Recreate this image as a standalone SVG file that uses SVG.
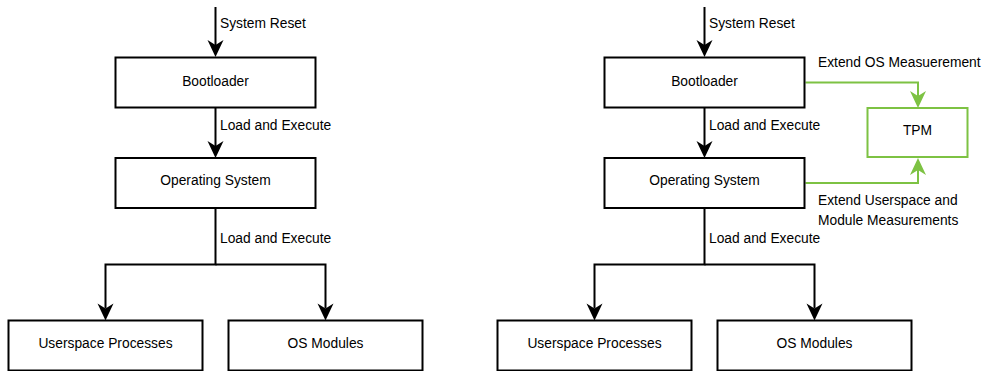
<svg xmlns="http://www.w3.org/2000/svg" width="982" height="371" viewBox="0 0 982 371">
  <style>
    .box { fill: #ffffff; stroke: #000000; stroke-width: 2; }
    .tpm { fill: #ffffff; stroke: #7dc243; stroke-width: 2; }
    .edge { fill: none; stroke: #000000; stroke-width: 2; }
    .edge-g { fill: none; stroke: #7dc243; stroke-width: 2; }
    text { font-family: "Liberation Sans", Arial, Helvetica, sans-serif; font-size: 13.8px; fill: #000000; }
    .c { text-anchor: middle; }
  </style>
  <defs>
    <marker id="arrow" markerUnits="userSpaceOnUse" orient="auto" refX="0" refY="0" markerWidth="20" markerHeight="20" overflow="visible">
      <path d="M12,0 L-5,-8 L0,0 L-5,8 Z" fill="#000000"/>
    </marker>
    <marker id="arrow-g" markerUnits="userSpaceOnUse" orient="auto" refX="0" refY="0" markerWidth="20" markerHeight="20" overflow="visible">
      <path d="M12,0 L-5,-8 L0,0 L-5,8 Z" fill="#7dc243"/>
    </marker>
  </defs>

  <!-- Connectors -->
  <g id="connectors">
    <!-- plain boot chain -->
    <path class="edge" d="M215.5,7 V45" marker-end="url(#arrow)"/>
    <path class="edge" d="M215.5,107.5 V146" marker-end="url(#arrow)"/>
    <path class="edge" d="M215.5,208 V264.5 H105.5 V308.5" marker-end="url(#arrow)"/>
    <path class="edge" d="M215.5,264.5 H325.5 V308.5" marker-end="url(#arrow)"/>
    <!-- measured boot chain -->
    <path class="edge" d="M704.5,7 V45" marker-end="url(#arrow)"/>
    <path class="edge" d="M704.5,107.5 V146" marker-end="url(#arrow)"/>
    <path class="edge" d="M704.5,208 V264.5 H594.5 V308.5" marker-end="url(#arrow)"/>
    <path class="edge" d="M704.5,264.5 H814.5 V308.5" marker-end="url(#arrow)"/>
    <!-- measurement extends into the TPM -->
    <path class="edge-g" d="M805.5,82.5 H918 V96" marker-end="url(#arrow-g)"/>
    <path class="edge-g" d="M805.5,183 H918 V170" marker-end="url(#arrow-g)"/>
  </g>

  <!-- Edge labels -->
  <g id="labels">
    <text x="220" y="28">System Reset</text>
    <text x="220" y="130">Load and Execute</text>
    <text x="220" y="242.5">Load and Execute</text>
    <text x="709" y="28">System Reset</text>
    <text x="709" y="130">Load and Execute</text>
    <text x="709" y="242.5">Load and Execute</text>
    <text x="818" y="66.5">Extend OS Measuerement</text>
    <text x="818" y="204.5">Extend Userspace and</text>
    <text x="818" y="224.5">Module Measurements</text>
  </g>

  <!-- Nodes: plain boot -->
  <g id="bootloader-a">
    <rect class="box" x="115.5" y="57.5" width="200" height="50"/>
    <text class="c" x="215.5" y="85.5">Bootloader</text>
  </g>
  <g id="os-a">
    <rect class="box" x="115.5" y="158" width="200" height="50"/>
    <text class="c" x="215.5" y="185">Operating System</text>
  </g>
  <g id="userspace-a">
    <rect class="box" x="8.5" y="320.5" width="194" height="50"/>
    <text class="c" x="105.5" y="347.5">Userspace Processes</text>
  </g>
  <g id="modules-a">
    <rect class="box" x="228.5" y="320.5" width="194" height="50"/>
    <text class="c" x="325.5" y="347.5">OS Modules</text>
  </g>

  <!-- Nodes: measured boot -->
  <g id="bootloader-b">
    <rect class="box" x="604.5" y="57.5" width="200" height="50"/>
    <text class="c" x="704.5" y="85.5">Bootloader</text>
  </g>
  <g id="os-b">
    <rect class="box" x="604.5" y="158" width="200" height="50"/>
    <text class="c" x="704.5" y="185">Operating System</text>
  </g>
  <g id="userspace-b">
    <rect class="box" x="497.5" y="320.5" width="194" height="50"/>
    <text class="c" x="594.5" y="347.5">Userspace Processes</text>
  </g>
  <g id="modules-b">
    <rect class="box" x="717.5" y="320.5" width="194" height="50"/>
    <text class="c" x="814.5" y="347.5">OS Modules</text>
  </g>
  <g id="tpm">
    <rect class="tpm" x="867.5" y="108" width="100" height="49"/>
    <text class="c" x="917.5" y="135">TPM</text>
  </g>
</svg>
